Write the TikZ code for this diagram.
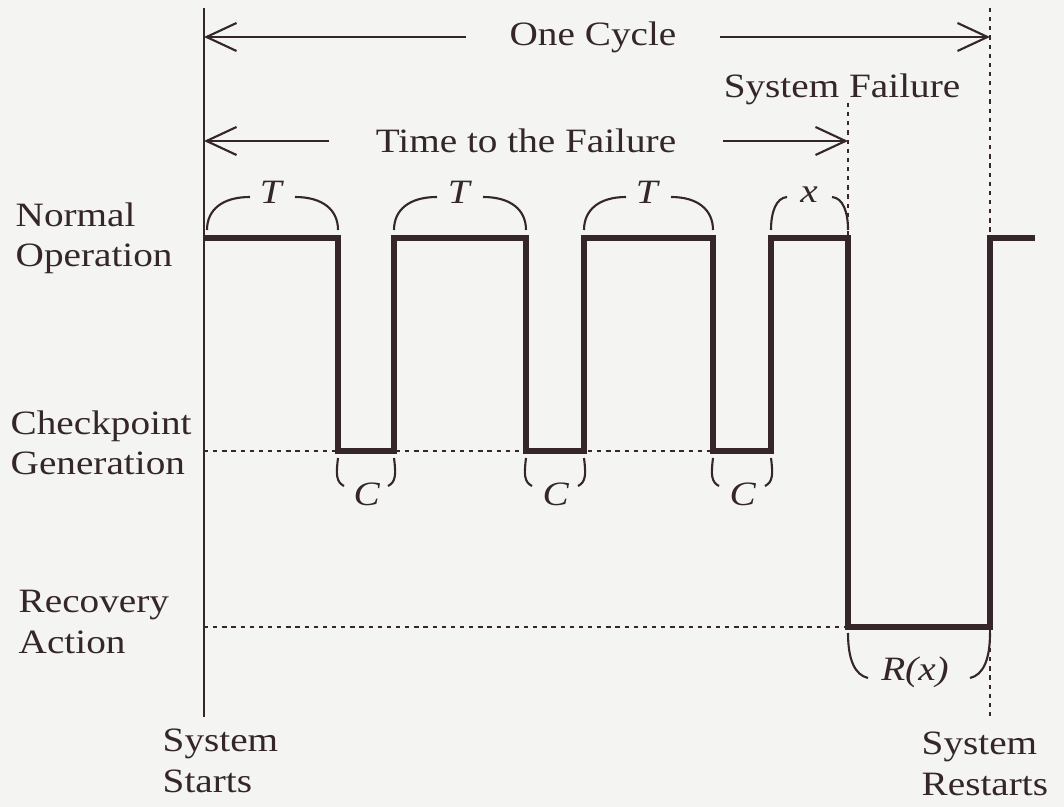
\documentclass[tikz,border=0pt]{standalone}
\usepackage{fontspec}
\setmainfont{Liberation Serif}[FakeStretch=1.15]
\usetikzlibrary{arrows.meta}

\definecolor{ink}{RGB}{52,38,42}
\definecolor{paper}{RGB}{244,244,242}

\tikzset{
    lbl/.style={inner sep=0pt, text=ink, font=\fontsize{9.7}{11.6}\selectfont},
    sig/.style={draw=ink, line width=1.9pt, line join=miter},
    axisline/.style={draw=ink, line width=0.6pt},
    guide/.style={draw=ink, line width=0.7pt, dash pattern=on 1.2pt off 1.4pt},
    span/.style={axisline, -{Straight Barb[length=0.3cm,width=0.28cm]}},
    brace/.style={draw=ink, line width=0.6pt}
}

\begin{document}
\begin{tikzpicture}[x=0.01cm, y=-0.01cm]
    % 0. Nền
    \fill[paper] (0,0) rectangle (1064,807);

    % 1. Các mốc thời gian
    \coordinate (s0) at (204,8);
    \coordinate (s1) at (204,717);
    \coordinate (r0) at (990,8);
    \coordinate (r1) at (990,720);
    \coordinate (f0) at (848,103);
    \coordinate (f1) at (848,236);
    \draw[axisline] (s0) -- (s1);
    \draw[guide] (r0) -- (r1);
    \draw[guide] (f0) -- (f1);

    % 2. Khoảng thời gian
    \coordinate (cycL) at (204,37);
    \coordinate (cycR) at (990,37);
    \node[lbl, inner xsep=0.43cm] (cycle) at (593,37) {One Cycle};
    \draw[span] (cycle.west) -- (cycL);
    \draw[span] (cycle.east) -- (cycR);

    \coordinate (ttfL) at (204,141);
    \coordinate (ttfR) at (848,141);
    \node[lbl, inner xsep=0.46cm] (ttf) at (526,141) {Time to the Failure};
    \draw[span] (ttf.west) -- (ttfL);
    \draw[span] (ttf.east) -- (ttfR);

    \node[lbl, anchor=base] (fail) at (842,98) {System Failure};

    % 3. Các mức trạng thái (base = dòng cuối)
    \node[lbl, anchor=base west, align=left] (normal) at (15,267) {Normal\\Operation};
    \node[lbl, anchor=base west, align=left] (ckpt) at (10,475) {Checkpoint\\Generation};
    \node[lbl, anchor=base west, align=left] (recov) at (18,653) {Recovery\\Action};
    \node[lbl, anchor=base west, align=left] (start) at (162,792) {System\\Starts};
    \node[lbl, anchor=base west, align=left] (restart) at (921,795) {System\\Restarts};

    % 4. Đường tín hiệu
    \draw[guide] (204,451) -- (771,451);
    \draw[guide] (204,627) -- (848,627);
    \draw[sig] (204,238) -- (338,238) -- (338,451) -- (394,451) -- (394,238)
        -- (526,238) -- (526,451) -- (584,451) -- (584,238)
        -- (713,238) -- (713,451) -- (771,451) -- (771,238)
        -- (848,238) -- (848,627) -- (990,627) -- (990,238) -- (1035,238);

    % 5. Ngoặc phía trên
    \draw[brace] (207,230) .. controls (207,210) and (222,197) .. (250,197);
    \draw[brace] (295,197) .. controls (323,197) and (338,210) .. (338,230);
    \node[lbl, anchor=base] (t1) at (272,204) {\textit{T}};

    \draw[brace] (394,230) .. controls (394,210) and (409,197) .. (437,197);
    \draw[brace] (483,197) .. controls (511,197) and (526,210) .. (526,230);
    \node[lbl, anchor=base] (t2) at (460,204) {\textit{T}};

    \draw[brace] (584,230) .. controls (584,210) and (599,197) .. (626,197);
    \draw[brace] (671,197) .. controls (698,197) and (713,210) .. (713,230);
    \node[lbl, anchor=base] (t3) at (648,204) {\textit{T}};

    \draw[brace] (771,230) .. controls (771,212) and (776,198) .. (787,197);
    \draw[brace] (832,197) .. controls (843,198) and (848,212) .. (848,230);
    \node[lbl, anchor=base] (tx) at (809,203) {\textit{x}};

    % 6. Ngoặc phía dưới
    \draw[brace] (338,458) .. controls (336,474) and (336,482) .. (344,486);
    \draw[brace] (394,458) .. controls (396,474) and (396,482) .. (388,486);
    \node[lbl, anchor=base] (c1) at (367,505) {\textit{C}};

    \draw[brace] (526,458) .. controls (524,474) and (524,482) .. (532,486);
    \draw[brace] (584,458) .. controls (586,474) and (586,482) .. (578,486);
    \node[lbl, anchor=base] (c2) at (556,505) {\textit{C}};

    \draw[brace] (713,458) .. controls (711,474) and (711,482) .. (719,486);
    \draw[brace] (771,458) .. controls (773,474) and (773,482) .. (765,486);
    \node[lbl, anchor=base] (c3) at (743,505) {\textit{C}};

    \draw[brace] (848,633) .. controls (848,660) and (855,675) .. (868,678);
    \draw[brace] (990,633) .. controls (990,660) and (983,675) .. (970,678);
    \node[lbl, anchor=base] (rx) at (915,680) {\textit{R(x)}};
\end{tikzpicture}
\end{document}
